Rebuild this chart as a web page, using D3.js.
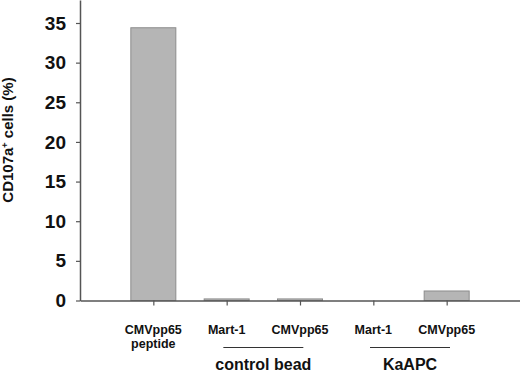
<!DOCTYPE html>
<html>
<head>
<meta charset="utf-8">
<script src="https://cdn.jsdelivr.net/npm/d3@7"></script>
<style>
  body { margin: 0; background: #fff; }
  svg { display: block; font-family: "Liberation Sans", Arial, sans-serif; font-weight: bold; }
</style>
</head>
<body>
<svg id="chart" width="520" height="372"></svg>
<script>
// data
const categories = ["CMVpp65\npeptide", "Mart-1", "CMVpp65", "Mart-1", "CMVpp65"];
const values = [34.4, 0.2, 0.2, 0, 1.2];
const groups = [
  {label: "control bead", from: 1, to: 2},
  {label: "KaAPC", from: 3, to: 4}
];
const yTicks = [0, 5, 10, 15, 20, 25, 30, 35];

const svg = d3.select("#chart");
const left = 80, right = 520, zeroY = 300.5, topY = 0;

const x = d3.scalePoint()
  .domain(d3.range(categories.length))
  .range([left, right])
  .padding(1);

const y = d3.scaleLinear()
  .domain([0, 37.9])
  .range([zeroY, topY]);

const barW = 45;

// bars
svg.append("g")
  .selectAll("rect")
  .data(values)
  .enter()
  .append("rect")
  .attr("x", (d, i) => x(i) - barW / 2)
  .attr("y", d => y(d))
  .attr("width", barW)
  .attr("height", d => zeroY - y(d))
  .attr("fill", "#b5b5b5")
  .attr("stroke", "#8c8c8c")
  .attr("stroke-width", 1);

// y axis
const yAxis = svg.append("g")
  .attr("transform", `translate(${left},0)`)
  .call(d3.axisLeft(y).tickValues(yTicks).tickSize(4).tickPadding(10).tickSizeOuter(0));
yAxis.select(".domain").attr("stroke", "#555").attr("stroke-width", 1.5);
yAxis.selectAll(".tick line").attr("stroke", "#555").attr("stroke-width", 1.2);
yAxis.selectAll("text")
  .attr("fill", "#111")
  .style("font-size", "19px")
  .style("font-weight", "bold")
  .style("font-family", "Liberation Sans, Arial, sans-serif");

// x axis
const xAxis = svg.append("g")
  .attr("transform", `translate(0,${zeroY})`)
  .call(d3.axisBottom(x).tickSize(5).tickSizeOuter(0).tickFormat(""));
xAxis.select(".domain").attr("stroke", "#555").attr("stroke-width", 1.5);
xAxis.selectAll(".tick line").attr("stroke", "#555").attr("stroke-width", 1.2);

// category labels
const catLabels = svg.append("g")
  .selectAll("text")
  .data(categories)
  .enter()
  .append("text")
  .attr("x", (d, i) => x(i))
  .attr("y", 334)
  .attr("text-anchor", "middle")
  .style("font-size", "12.5px")
  .attr("fill", "#111");
catLabels.each(function(d) {
  const lines = d.split("\n");
  d3.select(this).selectAll("tspan")
    .data(lines)
    .enter()
    .append("tspan")
    .attr("x", d3.select(this).attr("x"))
    .attr("dy", (l, j) => j === 0 ? 0 : 14)
    .text(l => l);
});

// group brackets and labels
const g = svg.append("g").selectAll("g").data(groups).enter().append("g");
g.append("line")
  .attr("x1", d => (x(d.from) + x(d.to)) / 2 - 40)
  .attr("x2", d => (x(d.from) + x(d.to)) / 2 + 40)
  .attr("y1", 347.5)
  .attr("y2", 347.5)
  .attr("stroke", "#333")
  .attr("stroke-width", 1.2);
g.append("text")
  .attr("x", d => (x(d.from) + x(d.to)) / 2)
  .attr("y", 370)
  .attr("text-anchor", "middle")
  .style("font-size", "16px")
  .attr("fill", "#111")
  .text(d => d.label);

// y title
const yt = svg.append("text")
  .attr("transform", "translate(13,140) rotate(-90)")
  .attr("text-anchor", "middle")
  .style("font-size", "15px")
  .attr("fill", "#111");
yt.append("tspan").text("CD107a");
yt.append("tspan").attr("dy", -5).style("font-size", "9px").text("+");
yt.append("tspan").attr("dy", 5).text(" cells (%)");
</script>
</body>
</html>
